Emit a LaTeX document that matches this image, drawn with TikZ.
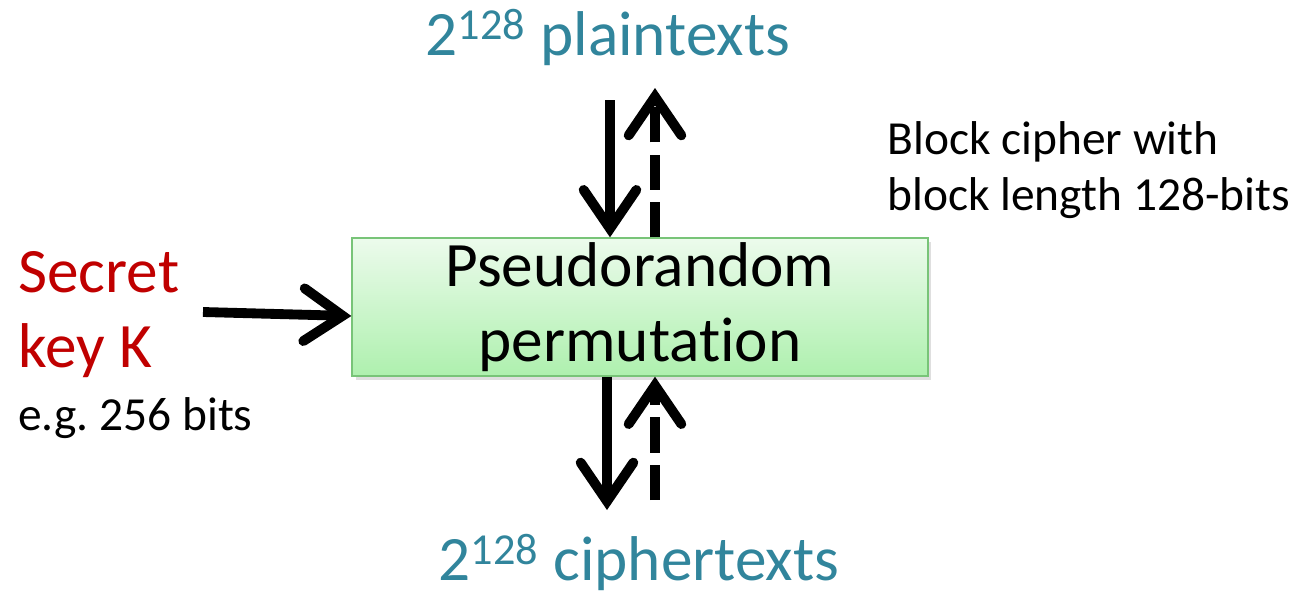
\documentclass[tikz,border=0pt]{standalone}
\usepackage{fontspec}
\setmainfont{Carlito}[Ligatures=NoCommon]
\usetikzlibrary{arrows.meta}
\usetikzlibrary{shadows}
\definecolor{mteal}{RGB}{49,133,156}
\definecolor{mred}{RGB}{192,0,0}
\definecolor{mgreen}{RGB}{120,196,120}
\tikzset{bigtext/.style = {font=\fontsize{36}{42.5}\selectfont, inner sep=0}}
\tikzset{smalltext/.style = {font=\fontsize{27}{31.5}\selectfont, inner sep=0, align=left}}
\tikzset{fatarrow/.style = {line width=5.6pt,
                            -{Straight Barb[length=22pt, width=30pt, line cap=round]}}}
\tikzset{fatdash/.style = {fatarrow, dash pattern=on 20pt off 7pt}}
\begin{document}
\begin{tikzpicture}[x=0.02cm, y=-0.02cm]
    \useasboundingbox (0, 0) rectangle (1298, 595);
    \node [bigtext, draw=mgreen, line width=0.8pt, top color={rgb,255:red,236;green,251;blue,236},
           bottom color={rgb,255:red,174;green,240;blue,174},
           drop shadow={opacity=0.25, shadow xshift=2pt, shadow yshift=-2pt},
           minimum width=11.52cm, minimum height=2.76cm, align=center]
      (prp) at (640, 307) {Pseudorandom\\permutation};
    \node [bigtext, text=mteal, anchor=base] (plain) at (608, 55) {2\textsuperscript{128} plaintexts};
    \node [bigtext, text=mteal, anchor=base] (cipher) at (639, 580) {2\textsuperscript{128} ciphertexts};
    \node [bigtext, text=mred, anchor=base west, align=left] (key) at (18, 367) {Secret\\key K};
    \node [smalltext, anchor=base west] (keylen) at (18, 430) {e.g.\ 256 bits};
    \node [smalltext, anchor=base west] (blocklen) at (887, 210) {Block cipher with\\block length 128-bits};
    % plaintext side
    \coordinate (pin) at (610, 100);
    \coordinate (pout) at (655, 88);
    \draw [fatarrow] (pin) -- (pin |- prp.north);
    \draw [fatdash] (pout |- prp.north) -- (pout);
    % ciphertext side
    \coordinate (cout) at (607, 510);
    \coordinate (cin) at (655, 500);
    \draw [fatarrow] (cout |- prp.south) -- (cout);
    \draw [fatdash] (cin) -- (cin |- prp.south);
    % key
    \coordinate (kin) at (203, 312);
    \coordinate (kend) at (0, 316);
    \draw [fatarrow] (kin) -- (prp.west |- kend);
\end{tikzpicture}
\end{document}
